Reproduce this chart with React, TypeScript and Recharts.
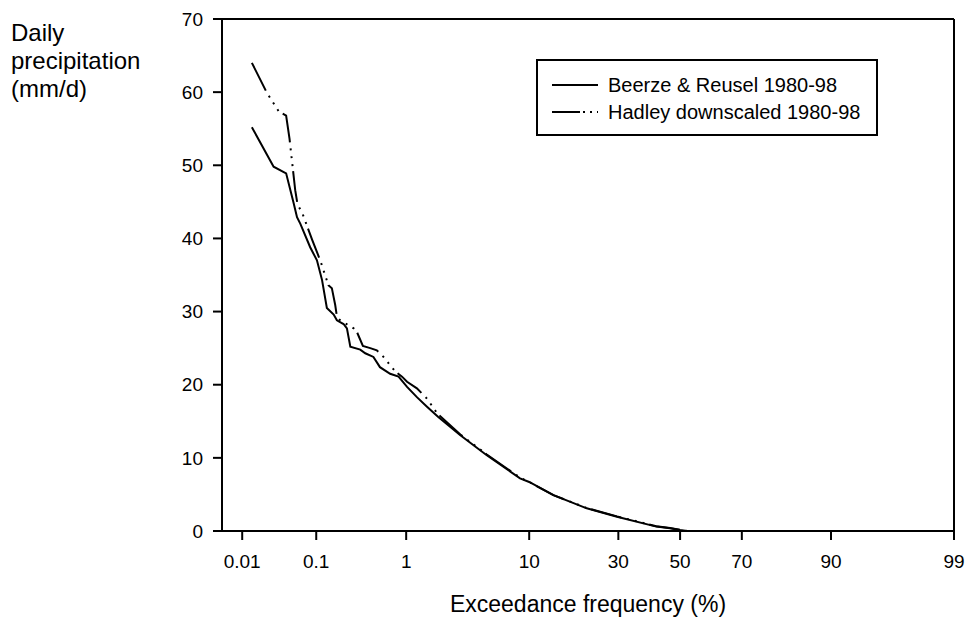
import React from "react";
import { Line, LineChart, ReferenceLine, XAxis, YAxis } from "recharts";

// exceedance frequency (%) and daily precipitation (mm/d)
const BEERZE_PCT = [
  0.0138, 0.0278, 0.041, 0.051, 0.057, 0.063, 0.084, 0.102, 0.118, 0.135, 0.163, 0.178, 0.213, 0.233,
  0.255, 0.33, 0.375, 0.46, 0.54, 0.69, 0.84, 1.02, 1.27, 1.58, 2.0, 3.1, 5.0, 8.7, 10, 14.1, 21.4,
  29.6, 42, 46.6, 50, 52.3, 60, 70, 80, 90, 95, 99,
];
const BEERZE_MM = [
  55.2, 49.8, 48.9, 45.0, 42.9, 42.0, 38.8, 37.0, 34.3, 30.5, 29.6, 28.8, 28.3, 27.7,
  25.2, 24.8, 24.3, 23.8, 22.4, 21.5, 21.1, 19.7, 18.3, 17.0, 15.6, 13.1, 10.4, 7.2, 6.7, 4.9, 3.1,
  1.95, 0.6, 0.37, 0.13, 0, 0, 0, 0, 0, 0, 0,
];

const HADLEY_PCT = [
  0.0138, 0.0225, 0.0325, 0.041, 0.0455, 0.054, 0.058, 0.066, 0.089, 0.112, 0.141, 0.155, 0.17, 0.178,
  0.195, 0.223, 0.278, 0.303, 0.353, 0.425, 0.5, 0.61, 0.66, 0.78, 0.91, 1.02, 1.27, 1.58, 1.95, 3.1,
  5.0, 8.7, 10, 14.1, 21.4, 29.6, 42, 46.6, 50, 52.3, 60, 70, 80, 90, 95, 99,
];
const HADLEY_MM = [
  64.0, 59.9, 57.4, 56.8, 53.6, 46.6, 44.6, 43.6, 39.8, 37.0, 33.6, 33.2, 30.9, 29.3,
  28.8, 28.4, 27.7, 27.2, 25.3, 25.0, 24.7, 23.6, 23.0, 21.8, 21.1, 20.4, 19.5, 18.1, 16.1, 13.2,
  10.5, 7.3, 6.7, 4.9, 3.15, 2.0, 0.65, 0.4, 0.15, 0, 0, 0, 0, 0, 0, 0,
];

const X_TICKS = [0.01, 0.1, 1, 10, 30, 50, 70, 90, 99];
const Y_TICKS = [0, 10, 20, 30, 40, 50, 60, 70];
const X_MIN_PCT = 0.005;
const X_MAX_PCT = 99;

// inverse normal cdf (Acklam), gives the probability-paper x position
function probit(pct: number): number {
  const p = pct / 100;
  const a = [-39.69683028665376, 220.9460984245205, -275.9285104469687, 138.357751867269, -30.66479806614716, 2.506628277459239];
  const b = [-54.47609879822406, 161.5858368580409, -155.6989798598866, 66.80131188771972, -13.28068155288572];
  const c = [-0.007784894002430293, -0.3223964580411365, -2.400758277161838, -2.549732539343734, 4.374664141464968, 2.938163982698783];
  const d = [0.007784695709041462, 0.3224671290700398, 2.445134137142996, 3.754408661907416];
  const lo = 0.02425;
  if (p < lo) {
    const q = Math.sqrt(-2 * Math.log(p));
    return (((((c[0] * q + c[1]) * q + c[2]) * q + c[3]) * q + c[4]) * q + c[5]) / ((((d[0] * q + d[1]) * q + d[2]) * q + d[3]) * q + 1);
  }
  if (p > 1 - lo) {
    const q = Math.sqrt(-2 * Math.log(1 - p));
    return -(((((c[0] * q + c[1]) * q + c[2]) * q + c[3]) * q + c[4]) * q + c[5]) / ((((d[0] * q + d[1]) * q + d[2]) * q + d[3]) * q + 1);
  }
  const q = p - 0.5;
  const r = q * q;
  return ((((((a[0] * r + a[1]) * r + a[2]) * r + a[3]) * r + a[4]) * r + a[5]) * q) / (((((b[0] * r + b[1]) * r + b[2]) * r + b[3]) * r + b[4]) * r + 1);
}

const beerze = BEERZE_PCT.map((p, i) => ({ x: probit(p), y: BEERZE_MM[i] }));
const hadley = HADLEY_PCT.map((p, i) => ({ x: probit(p), y: HADLEY_MM[i] }));
const xTicks = X_TICKS.map(probit);
const xMin = probit(X_MIN_PCT);
const xMax = probit(X_MAX_PCT);

const FONT = "'Liberation Sans', Arial, sans-serif";
const HADLEY_DASH = "31 6 2 6 2 6 2 5";

function formatX(v: number) {
  const i = xTicks.findIndex((t) => Math.abs(t - v) < 1e-6);
  return i >= 0 ? String(X_TICKS[i]) : "";
}

function LegendBox() {
  return (
    <div
      style={{
        position: "absolute",
        left: 536,
        top: 59,
        width: 342,
        height: 77,
        boxSizing: "border-box",
        border: "2px solid #000",
        background: "#fff",
        fontSize: 20,
        fontFamily: FONT,
      }}
    >
      {[
        { name: "Beerze & Reusel 1980-98", dash: undefined as string | undefined, top: 12 },
        { name: "Hadley downscaled 1980-98", dash: "28 3 2 5 2 5 2 10", top: 39 },
      ].map((row) => (
        <div key={row.name} style={{ position: "absolute", left: 14, top: row.top, height: 24, display: "flex", alignItems: "center" }}>
          <svg width={46} height={6} style={{ display: "block" }}>
            <line x1={0} y1={3} x2={46} y2={3} stroke="#000" strokeWidth={2} strokeDasharray={row.dash} />
          </svg>
          <span style={{ marginLeft: 10, whiteSpace: "nowrap" }}>{row.name}</span>
        </div>
      ))}
    </div>
  );
}

export default function App() {
  return (
    <div style={{ position: "relative", width: 966, height: 619, fontFamily: FONT, background: "#fff" }}>
      <style>{"body{margin:0;overflow:hidden}"}</style>
      <div style={{ position: "absolute", left: 11, top: 19, fontSize: 24, lineHeight: "28px", color: "#000" }}>
        Daily
        <br />
        precipitation
        <br />
        (mm/d)
      </div>
      <LineChart width={966} height={619} margin={{ top: 19, right: 12, bottom: 0, left: 0 }}>
        <XAxis
          dataKey="x"
          type="number"
          domain={[xMin, xMax]}
          allowDataOverflow
          ticks={xTicks}
          tickFormatter={formatX}
          height={88}
          stroke="#000"
          strokeWidth={2}
          tickSize={9}
          tickMargin={15}
          tick={{ fill: "#000", fontSize: 19, fontFamily: FONT }}
          label={{ value: "Exceedance frequency (%)", position: "insideBottom", offset: 7, fill: "#000", fontSize: 23, fontFamily: FONT }}
        />
        <YAxis
          type="number"
          domain={[0, 70]}
          ticks={Y_TICKS}
          allowDataOverflow
          width={222}
          stroke="#000"
          strokeWidth={2}
          tickSize={9}
          tickMargin={10}
          tick={{ fill: "#000", fontSize: 19, fontFamily: FONT }}
        />
        <ReferenceLine y={70} stroke="#000" strokeWidth={2} />
        <ReferenceLine x={xMax} stroke="#000" strokeWidth={2} />
        <Line data={hadley} dataKey="y" type="linear" stroke="#000" strokeWidth={2} strokeDasharray={HADLEY_DASH} dot={false} isAnimationActive={false} />
        <Line data={beerze} dataKey="y" type="linear" stroke="#000" strokeWidth={2} dot={false} isAnimationActive={false} />
      </LineChart>
      <LegendBox />
    </div>
  );
}
